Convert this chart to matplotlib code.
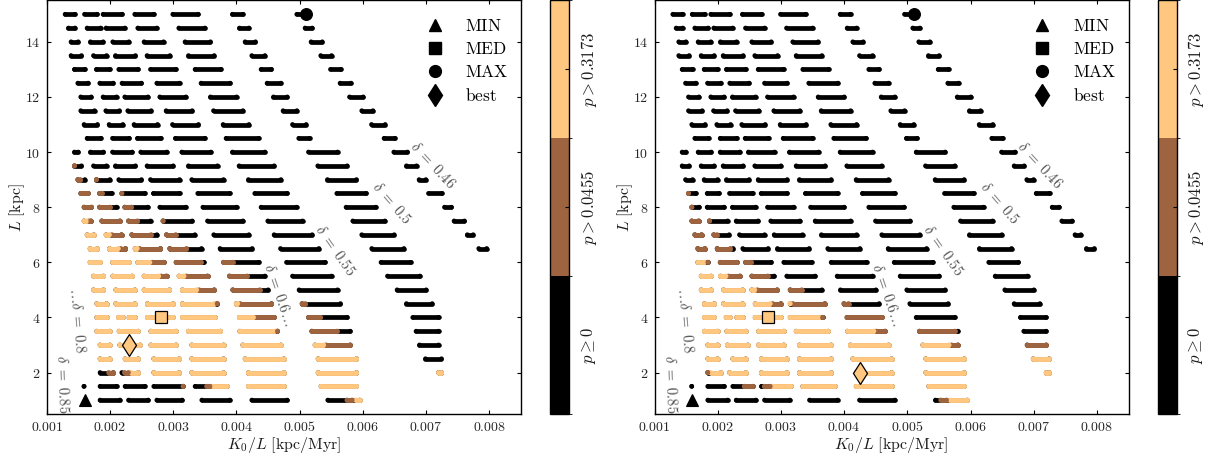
import matplotlib
matplotlib.use("Agg")
import matplotlib.pyplot as plt
import numpy as np
from matplotlib.collections import LineCollection
from matplotlib.colors import BoundaryNorm
from matplotlib.cm import ScalarMappable
from matplotlib.lines import Line2D
from matplotlib.ticker import FuncFormatter

plt.rcParams['mathtext.fontset'] = 'cm'
plt.rcParams['font.family'] = ['DejaVu Serif']

# ---------------------------------------------------------------- data
# x values are K0/L in units of 1e-3 kpc/Myr; each row (one L value) holds
# runs of adjacent models given as (first model, last model)
x_unit = 1e-3

L_rows = [15.0, 14.5, 14.0, 13.5, 13.0, 12.5, 12.0, 11.5, 11.0, 10.5, 10.0,
          9.5, 9.0, 8.5, 8.0, 7.5, 7.0, 6.5, 6.0, 5.5, 5.0, 4.5, 4.0, 3.5,
          3.0, 2.5, 2.0, 1.5, 1.0]

row_runs = [
    [(1.290, 1.445), (1.597, 1.797), (1.891, 2.193), (2.392, 2.695), (2.994, 3.396), (3.938, 4.103), (4.956, 5.097)],
    [(1.343, 1.445), (1.638, 1.850), (1.938, 2.236), (2.440, 2.742), (3.089, 3.502), (4.049, 4.198), (5.087, 5.199)],
    [(1.384, 1.497), (1.691, 1.892), (2.044, 2.299), (2.540, 2.847), (3.188, 3.590), (4.138, 4.302), (5.182, 5.358)],
    [(1.384, 1.549), (1.739, 1.945), (2.087, 2.403), (2.587, 2.948), (3.242, 3.649), (4.244, 4.451), (5.335, 5.505)],
    [(1.438, 1.603), (1.786, 1.998), (2.139, 2.446), (2.641, 3.043), (3.347, 3.755), (4.391, 4.555), (5.489, 5.653)],
    [(1.491, 1.655), (1.839, 2.051), (2.191, 2.498), (2.741, 3.100), (3.441, 3.902), (4.486, 4.704), (5.641, 5.812)],
    [(1.538, 1.703), (1.891, 2.103), (2.234, 2.600), (2.788, 3.201), (3.590, 4.002), (4.587, 4.804), (5.790, 6.006)],
    [(1.538, 1.755), (1.934, 2.150), (2.282, 2.652), (2.888, 3.301), (3.638, 4.103), (4.739, 4.957), (5.984, 6.160)],
    [(1.590, 1.802), (1.986, 2.204), (2.381, 2.752), (2.989, 3.400), (3.790, 4.198), (4.888, 5.104), (6.138, 6.354)],
    [(1.638, 1.856), (2.040, 2.304), (2.435, 2.805), (3.036, 3.502), (3.837, 4.350), (4.987, 5.157), (6.337, 6.508)],
    [(1.438, 1.497), (1.691, 1.897), (2.040, 2.351), (2.487, 2.900), (3.136, 3.597), (3.938, 4.451), (5.141, 5.600), (6.491, 6.707)],
    [(1.438, 1.549), (1.739, 1.945), (2.087, 2.403), (2.587, 3.000), (3.242, 3.701), (4.043, 4.598), (5.288, 5.753), (6.691, 6.850)],
    [(1.491, 1.603), (1.786, 1.998), (2.139, 2.498), (2.641, 3.100), (3.294, 3.796), (4.191, 4.704), (5.441, 5.900), (6.891, 6.998)],
    [(1.538, 1.655), (1.834, 2.024), (2.187, 2.552), (2.688, 3.100), (3.389, 3.897), (4.291, 4.804), (5.589, 6.054), (7.040, 7.252)],
    [(1.590, 1.707), (1.834, 2.103), (2.234, 2.600), (2.788, 3.201), (3.470, 4.002), (4.391, 4.951), (5.736, 6.207), (7.293, 7.403)],
    [(1.590, 1.698), (1.870, 2.157), (2.293, 2.641), (2.840, 3.301), (3.543, 4.103), (4.497, 5.046), (5.842, 6.350), (7.445, 7.609)],
    [(1.638, 1.745), (1.938, 2.182), (2.345, 2.742), (2.894, 3.343), (3.642, 4.198), (4.597, 5.199), (5.984, 6.497), (7.654, 7.747)],
    [(1.685, 1.797), (1.992, 2.245), (2.397, 2.799), (2.946, 3.448), (3.742, 4.250), (4.698, 5.305), (6.142, 6.650), (7.835, 7.960)],
    [(1.685, 1.845), (2.040, 2.299), (2.440, 2.847), (3.046, 3.486), (3.796, 4.356), (4.793, 5.405), (6.289, 6.759)],
    [(1.739, 1.897), (2.044, 2.351), (2.540, 2.894), (3.093, 3.543), (3.891, 4.451), (4.888, 5.505), (6.391, 6.904)],
    [(1.739, 1.897), (2.092, 2.394), (2.540, 2.941), (3.147, 3.649), (3.943, 4.503), (4.992, 5.600), (6.543, 7.003)],
    [(1.791, 1.945), (2.092, 2.394), (2.593, 3.000), (3.147, 3.696), (3.998, 4.555), (5.040, 5.647), (6.691, 7.098)],
    [(1.791, 1.945), (2.134, 2.198), (2.302, 2.394), (2.593, 3.000), (3.147, 3.660), (4.046, 4.598), (5.141, 5.753), (6.791, 7.198)],
    [(1.791, 1.998), (2.144, 2.446), (2.646, 3.047), (3.242, 3.748), (4.054, 4.650), (5.193, 5.801), (6.843, 7.198)],
    [(1.843, 1.998), (2.155, 2.478), (2.646, 3.047), (3.294, 3.796), (4.101, 4.704), (5.245, 5.801), (6.897, 7.198)],
    [(1.843, 1.998), (2.239, 2.446), (2.693, 3.095), (3.294, 3.796), (4.138, 4.752), (5.293, 5.900), (6.992, 7.245)],
    [(1.843, 2.051), (2.187, 2.446), (2.693, 3.095), (3.294, 3.796), (4.191, 4.752), (5.293, 5.900), (7.198, 7.245)],
    [(1.589, 1.589), (1.843, 2.103), (2.239, 2.552), (2.693, 3.158), (3.347, 3.850), (4.191, 4.752), (5.340, 5.900)],
    [(1.843, 2.157), (2.293, 2.604), (2.741, 3.142), (3.453, 3.897), (4.244, 4.804), (5.446, 5.948)],
]

# p-value class of runs that are not p >= 0 only: 1 -> p > 0.0455, 2 -> p > 0.3173
# (L, first x, last x, class)
left_runs = [
    (9.5, 1.438, 1.438, 1),
    (9.0, 1.491, 1.530, 1), (9.0, 1.786, 1.786, 1),
    (8.5, 1.538, 1.655, 1), (8.5, 1.834, 1.873, 1), (8.5, 2.187, 2.187, 1),
    (8.0, 1.590, 1.707, 1), (8.0, 1.834, 2.000, 1), (8.0, 2.234, 2.340, 1),
    (7.5, 1.590, 1.630, 2), (7.5, 1.665, 1.698, 1), (7.5, 1.870, 2.157, 1), (7.5, 2.293, 2.435, 1),
    (7.5, 2.840, 2.840, 1),
    (7.0, 1.638, 1.745, 2), (7.0, 1.938, 1.990, 2), (7.0, 2.030, 2.182, 1), (7.0, 2.345, 2.650, 1),
    (7.0, 2.894, 3.040, 1),
    (6.5, 1.685, 1.797, 2), (6.5, 1.992, 2.130, 2), (6.5, 2.170, 2.245, 1), (6.5, 2.397, 2.430, 2),
    (6.5, 2.470, 2.799, 1), (6.5, 2.946, 3.210, 1),
    (6.0, 1.685, 1.845, 2), (6.0, 2.040, 2.299, 2), (6.0, 2.440, 2.630, 2), (6.0, 2.670, 2.847, 1),
    (6.0, 3.046, 3.440, 1), (6.0, 3.796, 3.940, 1),
    (5.5, 1.739, 1.897, 2), (5.5, 2.044, 2.351, 2), (5.5, 2.540, 2.770, 2), (5.5, 2.810, 2.894, 1),
    (5.5, 3.093, 3.170, 2), (5.5, 3.210, 3.543, 1), (5.5, 3.891, 4.170, 1),
    (5.0, 1.739, 1.897, 2), (5.0, 2.092, 2.394, 2), (5.0, 2.540, 2.941, 2), (5.0, 3.147, 3.370, 2),
    (5.0, 3.410, 3.649, 1), (5.0, 3.943, 4.370, 1),
    (4.5, 1.791, 1.945, 2), (4.5, 2.092, 2.394, 2), (4.5, 2.593, 3.000, 2), (4.5, 3.147, 3.650, 2),
    (4.5, 3.696, 3.696, 1), (4.5, 3.998, 4.020, 2), (4.5, 4.060, 4.555, 1), (4.5, 5.040, 5.090, 1),
    (4.0, 1.791, 1.945, 2), (4.0, 2.134, 2.198, 2), (4.0, 2.302, 2.394, 2), (4.0, 2.593, 3.000, 2),
    (4.0, 3.147, 3.660, 2), (4.0, 4.046, 4.270, 2), (4.0, 4.310, 4.598, 1), (4.0, 5.141, 5.330, 1),
    (3.5, 1.791, 1.998, 2), (3.5, 2.144, 2.446, 2), (3.5, 2.646, 3.047, 2), (3.5, 3.242, 3.748, 2),
    (3.5, 4.054, 4.600, 2), (3.5, 4.650, 4.650, 1), (3.5, 5.193, 5.590, 1),
    (3.0, 1.843, 1.998, 2), (3.0, 2.155, 2.478, 2), (3.0, 2.646, 3.047, 2), (3.0, 3.294, 3.796, 2),
    (3.0, 4.101, 4.704, 2), (3.0, 5.245, 5.380, 2), (3.0, 5.420, 5.801, 1),
    (2.5, 1.843, 1.998, 2), (2.5, 2.239, 2.446, 2), (2.5, 2.693, 3.095, 2), (2.5, 3.294, 3.796, 2),
    (2.5, 4.138, 4.752, 2), (2.5, 5.293, 5.900, 2),
    (2.0, 1.980, 2.051, 1), (2.0, 2.230, 2.290, 1), (2.0, 2.330, 2.446, 2), (2.0, 2.693, 3.095, 2),
    (2.0, 3.294, 3.796, 2), (2.0, 4.191, 4.752, 2), (2.0, 5.293, 5.900, 2), (2.0, 7.198, 7.245, 2),
    (1.5, 3.158, 3.158, 1), (1.5, 3.530, 3.580, 1), (1.5, 3.630, 3.850, 2), (1.5, 4.191, 4.752, 2),
    (1.5, 5.340, 5.900, 2),
    (1.0, 5.750, 5.830, 1), (1.0, 5.890, 5.948, 2),
]

right_runs = [
    (8.5, 1.538, 1.538, 1),
    (8.0, 1.590, 1.590, 1),
    (7.5, 1.590, 1.698, 1), (7.5, 1.870, 1.870, 1),
    (7.0, 1.638, 1.745, 1), (7.0, 1.938, 1.990, 1),
    (6.5, 1.685, 1.797, 1), (6.5, 1.992, 2.200, 1),
    (6.0, 1.685, 1.790, 2), (6.0, 1.845, 1.845, 1), (6.0, 2.040, 2.299, 1), (6.0, 2.440, 2.530, 1),
    (5.5, 1.739, 1.897, 2), (5.5, 2.044, 2.130, 2), (5.5, 2.170, 2.351, 1), (5.5, 2.540, 2.790, 1),
    (5.0, 1.739, 1.897, 2), (5.0, 2.092, 2.394, 2), (5.0, 2.540, 2.585, 2), (5.0, 2.630, 2.941, 1),
    (5.0, 3.147, 3.330, 1),
    (4.5, 1.791, 1.945, 2), (4.5, 2.092, 2.394, 2), (4.5, 2.593, 2.830, 2), (4.5, 2.870, 3.000, 1),
    (4.5, 3.147, 3.147, 2), (4.5, 3.190, 3.696, 1), (4.5, 3.998, 4.070, 1),
    (4.0, 1.791, 1.945, 2), (4.0, 2.134, 2.198, 2), (4.0, 2.302, 2.394, 2), (4.0, 2.593, 3.000, 2),
    (4.0, 3.147, 3.610, 2), (4.0, 3.660, 3.660, 1), (4.0, 4.046, 4.598, 1),
    (3.5, 1.791, 1.998, 2), (3.5, 2.144, 2.446, 2), (3.5, 2.646, 3.047, 2), (3.5, 3.242, 3.748, 2),
    (3.5, 4.054, 4.470, 2), (3.5, 4.510, 4.650, 1), (3.5, 5.193, 5.750, 1),
    (3.0, 1.843, 1.998, 2), (3.0, 2.155, 2.478, 2), (3.0, 2.646, 3.047, 2), (3.0, 3.294, 3.796, 2),
    (3.0, 4.101, 4.704, 2), (3.0, 5.245, 5.660, 2), (3.0, 5.700, 5.801, 1), (3.0, 6.897, 7.198, 1),
    (2.5, 1.843, 1.998, 2), (2.5, 2.239, 2.446, 2), (2.5, 2.693, 3.095, 2), (2.5, 3.294, 3.796, 2),
    (2.5, 4.138, 4.752, 2), (2.5, 5.293, 5.900, 2), (2.5, 6.992, 7.245, 2),
    (2.0, 1.843, 1.843, 1), (2.0, 1.890, 2.051, 2), (2.0, 2.187, 2.446, 2), (2.0, 2.693, 3.095, 2),
    (2.0, 3.294, 3.796, 2), (2.0, 4.191, 4.752, 2), (2.0, 5.293, 5.900, 2), (2.0, 7.198, 7.245, 2),
    (1.5, 2.420, 2.552, 1), (1.5, 2.740, 2.830, 1), (1.5, 2.870, 3.158, 2), (1.5, 3.347, 3.850, 2),
    (1.5, 4.191, 4.752, 2), (1.5, 5.340, 5.900, 2),
    (1.0, 5.530, 5.620, 1), (1.0, 5.670, 5.948, 2),
]

# special models: (x in 1e-3 kpc/Myr, L, class)
min_model = (1.60, 1.0, 0)
med_model = (2.80, 4.0, 2)
max_model = (5.10, 15.0, 0)
best_left = (2.30, 3.0, 2)
best_right = (4.25, 2.0, 2)

class_labels = [r'$p \geq 0$', r'$p > 0.0455$', r'$p > 0.3173$']
legend_labels = [r'$\mathrm{MIN}$', r'$\mathrm{MED}$', r'$\mathrm{MAX}$', r'$\mathrm{best}$']

delta_text = [r'$\delta\ =\ 0.46$', r'$\delta\ =\ 0.5$', r'$\delta\ =\ 0.55$',
              r'$\delta\ =\ 0.6\ldots$', r'$\ldots\delta\ =\ 0.8$', r'$\delta\ =\ 0.85$']
delta_x = [7.10, 6.46, 5.56, 4.67, 1.49, 1.25]
delta_L = [9.52, 8.16, 6.44, 4.84, 3.88, 1.58]
delta_rot = [-47, -49, -55, -71, -85, -88]

x_ticks = [0.001, 0.002, 0.003, 0.004, 0.005, 0.006, 0.007, 0.008]
y_ticks = [2, 4, 6, 8, 10, 12, 14]

# ---------------------------------------------------------------- style
cmap = plt.get_cmap('copper', 3)
class_colors = [cmap(0), cmap(1), cmap(2)]
LW = 3.4  # points

W, H = 1217, 461
fig = plt.figure(figsize=(W / 100, H / 100), dpi=100)


def fig_rect(x0, x1, ytop, ybot):
    return [x0 / W, (H - ybot) / H, (x1 - x0) / W, (ybot - ytop) / H]


def draw_runs(ax, Ls, x0s, x1s, colors, lw, z):
    Ls = np.asarray(Ls, float)
    x0s = np.asarray(x0s, float) * x_unit
    x1s = np.asarray(x1s, float) * x_unit
    segs = [[(a, l), (b, l)] for a, b, l in zip(x0s, x1s, Ls)]
    lc = LineCollection(segs, colors=colors, linewidths=lw, capstyle='round', zorder=z)
    ax.add_collection(lc)
    ax.scatter(x0s, Ls, s=lw ** 2, c=colors, linewidths=0, zorder=z)
    ax.scatter(x1s, Ls, s=lw ** 2, c=colors, linewidths=0, zorder=z)


def panel(ax, cax, runs, best):
    # all models (p >= 0)
    Ls, a, b = [], [], []
    for L, row in zip(L_rows, row_runs):
        for x0, x1 in row:
            Ls.append(L); a.append(x0); b.append(x1)
    draw_runs(ax, Ls, a, b, [class_colors[0]] * len(Ls), LW, 2)
    # higher p-value classes
    pL, p0, p1, pc = zip(*runs)
    draw_runs(ax, pL, p0, p1, [class_colors[c] for c in pc], LW * 1.05, 3)

    # special models
    ax.plot(min_model[0] * x_unit, min_model[1], ls='none', marker='^', ms=8.5,
            mfc=class_colors[min_model[2]], mec='k', mew=0.8, zorder=6)
    ax.plot(med_model[0] * x_unit, med_model[1], ls='none', marker='s', ms=8.3,
            mfc=class_colors[med_model[2]], mec='k', mew=0.9, zorder=6)
    ax.plot(max_model[0] * x_unit, max_model[1], ls='none', marker='o', ms=8.5,
            mfc=class_colors[max_model[2]], mec='k', mew=0.8, zorder=6)
    ax.plot(best[0] * x_unit, best[1], ls='none', marker='d', ms=11.3,
            mfc=class_colors[best[2]], mec='k', mew=0.9, zorder=6)

    for t, x, L, r in zip(delta_text, delta_x, delta_L, delta_rot):
        ax.text(x * x_unit, L, t, rotation=r, rotation_mode='anchor', ha='center', va='center',
                fontsize=10.5, color='0.3', zorder=4)

    handles = [Line2D([], [], ls='none', marker=m, ms=s, color='k')
               for m, s in zip(['^', 's', 'o', 'd'], [8.5, 8.3, 8.5, 11.3])]
    ax.legend(handles, legend_labels, loc='upper left', bbox_to_anchor=(0.80, 0.958),
              frameon=False, fontsize=12.5, borderpad=0, borderaxespad=0,
              handlelength=1.0, handletextpad=1.25, labelspacing=0.36)

    ax.set_xlim(0.001, 0.0085)
    ax.set_ylim(0.5, 15.5)
    ax.set_xticks(x_ticks)
    ax.set_yticks(y_ticks)
    ax.xaxis.set_major_formatter(FuncFormatter(lambda v, p: f'${v:.3f}$'))
    ax.yaxis.set_major_formatter(FuncFormatter(lambda v, p: f'${v:.0f}$'))
    ax.tick_params(direction='in', top=True, right=True, length=3, width=0.8,
                   labelsize=10, pad=4.5, labelcolor='0.15')
    for s in ax.spines.values():
        s.set_linewidth(1.0)
    ax.set_xlabel(r'$K_0/L\ [\mathrm{kpc/Myr}]$', fontsize=11.5, color='0.1')
    ax.set_ylabel(r'$L\ [\mathrm{kpc}]$', fontsize=11.5, color='0.1')
    ax.xaxis.set_label_coords(0.5, -0.052)
    ax.yaxis.set_label_coords(-0.042, 0.5)

    norm = BoundaryNorm([0, 1, 2, 3], 3)
    sm = ScalarMappable(norm=norm, cmap=cmap)
    cb = fig.colorbar(sm, cax=cax, ticks=[0.5, 1.5, 2.5])
    cb.set_ticklabels(class_labels)
    cb.outline.set_linewidth(1.0)
    cax.tick_params(direction='in', length=3, width=0.8, labelsize=12, pad=7, labelcolor='0.1')
    for t in cax.get_yticklabels():
        t.set_rotation(90)
        t.set_va('center')


ax1 = fig.add_axes(fig_rect(46.8, 520.8, 0.5, 413.9))
cax1 = fig.add_axes(fig_rect(550, 569, 0.5, 413.9))
ax2 = fig.add_axes(fig_rect(654.5, 1128.5, 0.5, 413.9))
cax2 = fig.add_axes(fig_rect(1157.7, 1176.7, 0.5, 413.9))

panel(ax1, cax1, left_runs, best_left)
panel(ax2, cax2, right_runs, best_right)

fig.savefig('out.png', dpi=100)
